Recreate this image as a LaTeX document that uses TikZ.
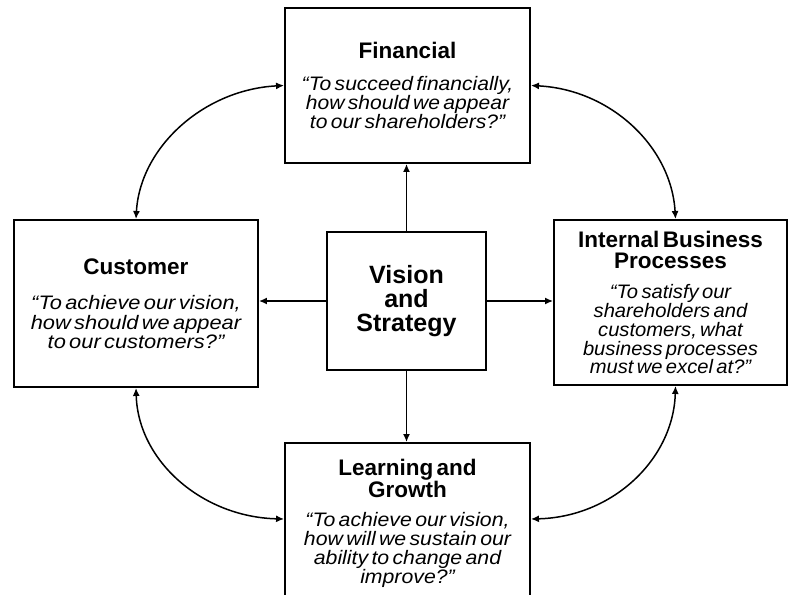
\documentclass[tikz,border=0pt]{standalone}
\usepackage{fontspec}
\setmainfont{Liberation Sans}
\newfontfamily\bodyfam{Liberation Sans}
\usetikzlibrary{arrows.meta}
\newcommand\boxtitle[1]{{\fontsize{22.5}{21}\selectfont\bfseries #1\par}}
\newcommand\boxbody[3]{{\bodyfam\fontsize{19.5}{#2}\selectfont\itshape\addfontfeatures{FakeStretch=#1}#3\par}}
\tikzset{
  box/.style={draw, line width=1.9pt, inner sep=0pt, align=center,
    execute at begin node={\parindent=0pt\relax}},
  link/.style={line width=1.5pt, -{Latex[length=8pt,width=7pt]}},
  dlink/.style={line width=1.5pt, {Latex[length=8pt,width=7pt]}-{Latex[length=8pt,width=7pt]}},
}
\begin{document}
\begin{tikzpicture}[x=1pt,y=-1pt]
\useasboundingbox (0,0) rectangle (789,594);
\clip (0,0) rectangle (789,594);
\fill[white] (0,0) rectangle (789,594);
\node[box, minimum width=245pt, minimum height=155pt, text width=240pt] (fin) at (407.5,85.5)
  {\boxtitle{Financial}\vspace{13pt}\boxbody{1.08}{18.75}{“To succeed financially,\\how should we appear\\to our shareholders?”}};
\node[box, minimum width=244pt, minimum height=167pt, text width=238pt] (cust) at (136,303.5)
  {\vspace*{3pt}\boxtitle{Customer}\vspace{13pt}\boxbody{1.12}{19.5}{“To achieve our vision,\\how should we appear\\to our customers?”}};
\node[box, minimum width=233pt, minimum height=165pt, text width=228pt] (ibp) at (670.5,302.5)
  {\boxtitle{Internal Business\\Processes}\vspace{12pt}\boxbody{1.035}{18.75}{“To satisfy our\\shareholders and\\customers, what\\business processes\\must we excel at?”}};
\node[box, minimum width=245pt, minimum height=160pt, text width=240pt] (lrn) at (407.5,523)
  {\boxtitle{Learning and\\Growth}\vspace{11pt}\boxbody{1.09}{18.75}{“To achieve our vision,\\how will we sustain our\\ability to change and\\improve?”}};
\node[box, minimum width=159pt, minimum height=138pt, text width=150pt] (vis) at (406.5,301)
  {{\fontsize{25}{24}\selectfont\bfseries Vision\\and\\Strategy\par}};
\draw[link] (vis.north) -- (vis.north |- fin.south);
\draw[link] (vis.south) -- (vis.south |- lrn.north);
\draw[link] (vis.west) -- (vis.west -| cust.east);
\draw[link] (vis.east) -- (vis.east -| ibp.west);
\draw[dlink] (fin.west) .. controls +(-80,4) and +(4,-72) .. (cust.north);
\draw[dlink] (cust.south) .. controls +(2,73) and +(-82,-2) .. ([yshift=4pt]lrn.west);
\draw[dlink] (fin.east) .. controls +(80,4) and +(-4,-72) .. ([xshift=5pt]ibp.north);
\draw[dlink] ([xshift=5pt]ibp.south) .. controls +(-2,73) and +(82,-2) .. ([yshift=4pt]lrn.east);
\end{tikzpicture}
\end{document}
